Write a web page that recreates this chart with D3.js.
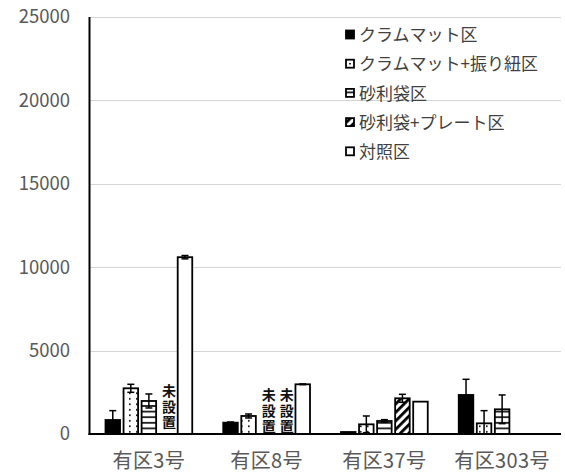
<!DOCTYPE html>
<html><head><meta charset="utf-8">
<script src="https://cdn.jsdelivr.net/npm/d3@7"></script>
<style>
html,body{margin:0;padding:0;background:#fff;}
svg{display:block;font-family:"Noto Sans CJK JP","Noto Sans",sans-serif;}
</style></head>
<body>
<svg id="chart" width="565" height="474"></svg>
<script>
const categories = ["有区3号","有区8号","有区37号","有区303号"];
const seriesNames = ["クラムマット区","クラムマット+振り紐区","砂利袋区","砂利袋+プレート区","対照区"];
const clamValues        = [840, 680, 120, 2340];
const clamRopeValues    = [2740, 1080, 580, 640];
const gravelValues      = [1980, null, 780, 1480];
const gravelPlateValues = [null, null, 2140, null];
const controlValues     = [10600, 2980, 1940, null];
const clamErr        = [560, 40, 0, 940];
const clamRopeErr    = [240, 120, 500, 760];
const gravelErr      = [420, null, 80, 860];
const gravelPlateErr = [null, null, 240, null];
const controlErr     = [100, 20, 0, null];
const yTicks = [0, 5000, 10000, 15000, 20000, 25000];
const notInstalled = [
  {cat: "有区3号", series: "砂利袋+プレート区"},
  {cat: "有区8号", series: "砂利袋区"},
  {cat: "有区8号", series: "砂利袋+プレート区"}
];
const notInstalledText = "未設置";

const allValues = [clamValues, clamRopeValues, gravelValues, gravelPlateValues, controlValues];
const allErrs = [clamErr, clamRopeErr, gravelErr, gravelPlateErr, controlErr];
const fills = ["#000", "url(#dots)", "url(#hlines)", "url(#diag)", "#fff"];

const svg = d3.select("#chart");
const defs = svg.append("defs");
const pd = defs.append("pattern").attr("id","dots").attr("patternUnits","userSpaceOnUse")
  .attr("width",7).attr("height",5.5);
pd.append("rect").attr("width",7).attr("height",5.5).attr("fill","#fff");
pd.append("rect").attr("x",3).attr("y",2).attr("width",1.6).attr("height",1.6).attr("fill","#000");
const ph = defs.append("pattern").attr("id","hlines").attr("patternUnits","userSpaceOnUse")
  .attr("width",6).attr("height",5.6);
ph.append("rect").attr("width",6).attr("height",5.6).attr("fill","#fff");
ph.append("rect").attr("y",2).attr("width",6).attr("height",1.6).attr("fill","#000");
const pg = defs.append("pattern").attr("id","diag").attr("patternUnits","userSpaceOnUse")
  .attr("width",6).attr("height",6).attr("patternTransform","rotate(45)");
pg.append("rect").attr("width",6).attr("height",6).attr("fill","#fff");
pg.append("rect").attr("width",2.8).attr("height",6).attr("fill","#000");

const mLeft = 90, mRight = 561, mTop = 17, mBottom = 434;
const y = d3.scaleLinear().domain([0, 25000]).range([mBottom, mTop]).clamp(true);
const x0 = d3.scaleBand().domain(categories).range([mLeft, mRight]).paddingInner(0).paddingOuter(0);
const x1 = d3.scaleBand().domain(seriesNames).range([15.5, x0.bandwidth() - 15.5]).paddingInner(0.194).paddingOuter(0);

// gridlines
svg.append("g").selectAll("line").data(yTicks.filter(d => d > 0)).join("line")
  .attr("x1", mLeft).attr("x2", mRight)
  .attr("y1", d => Math.round(y(d)) + 0.5).attr("y2", d => Math.round(y(d)) + 0.5)
  .attr("stroke", "#d4d4d4").attr("stroke-width", 1);

// y tick labels
svg.append("g").selectAll("text").data(yTicks).join("text")
  .attr("x", 70).attr("y", d => y(d)).attr("dy", "0.35em")
  .attr("text-anchor", "end").attr("font-size", 18.5).attr("fill", "#595959")
  .text(d => d);

// bars
const barData = [];
seriesNames.forEach((s, si) => {
  categories.forEach((c, ci) => {
    const v = allValues[si][ci];
    if (v !== null) barData.push({s, si, c, v, e: allErrs[si][ci]});
  });
});
const bars = svg.append("g");
bars.selectAll("rect").data(barData).join("rect")
  .attr("x", d => x0(d.c) + x1(d.s))
  .attr("y", d => y(d.v))
  .attr("width", x1.bandwidth())
  .attr("height", d => y(0) - y(d.v))
  .attr("fill", d => fills[d.si])
  .attr("stroke", "#000").attr("stroke-width", 1.8);

// error bars
const eg = svg.append("g").attr("stroke", "#000").attr("stroke-width", 1.5);
barData.filter(d => d.e !== null && d.e > 0).forEach(d => {
  const cx = x0(d.c) + x1(d.s) + x1.bandwidth() / 2;
  const y1 = y(d.v + d.e), y2 = y(d.v - d.e);
  eg.append("line").attr("x1", cx).attr("x2", cx).attr("y1", y1).attr("y2", y2);
  eg.append("line").attr("x1", cx - 3.5).attr("x2", cx + 3.5).attr("y1", y1).attr("y2", y1);
  if (d.v - d.e > 0)
    eg.append("line").attr("x1", cx - 3.5).attr("x2", cx + 3.5).attr("y1", y2).attr("y2", y2);
});

// 未設置 labels (vertical writing)
const ng = svg.append("g");
notInstalled.forEach((d, k) => {
  const cx = x0(d.cat) + x1(d.series) + x1.bandwidth() / 2 + 2;
  ng.append("text")
    .attr("x", cx).attr("y", k === 0 ? 384 : 388)
    .attr("writing-mode", "vertical-rl")
    .style("writing-mode", "vertical-rl")
    .attr("letter-spacing", 1.5)
    .attr("font-size", 14).attr("font-weight", "bold").attr("fill", "#111")
    .text(notInstalledText);
});

// axes lines
svg.append("line").attr("x1", mLeft - 0.5).attr("x2", mLeft - 0.5).attr("y1", mTop).attr("y2", mBottom + 1)
  .attr("stroke", "#000").attr("stroke-width", 2);
svg.append("line").attr("x1", mLeft - 1.5).attr("x2", mRight).attr("y1", mBottom).attr("y2", mBottom)
  .attr("stroke", "#000").attr("stroke-width", 2);

// x labels
svg.append("g").selectAll("text").data(categories).join("text")
  .attr("x", d => x0(d) + x0.bandwidth() / 2).attr("y", 468)
  .attr("text-anchor", "middle").attr("font-size", 20).attr("letter-spacing", 0.4).attr("fill", "#595959")
  .text(d => d);

// legend
const lg = svg.append("g");
seriesNames.forEach((s, i) => {
  const cy = 35 + i * 29.2;
  lg.append("rect").attr("x", 346).attr("y", cy - 4.5).attr("width", 8).attr("height", 8)
    .attr("fill", i === 1 ? "#fff" : fills[i]).attr("stroke", "#000").attr("stroke-width", 1.8);
  if (i === 1) lg.append("rect").attr("x", 349.2).attr("y", cy - 1.3).attr("width", 1.6).attr("height", 1.6).attr("fill", "#000");
  lg.append("text").attr("x", 359).attr("y", cy).attr("dy", "0.36em")
    .attr("font-size", 17).attr("fill", "#404040").text(s);
});
</script>
</body></html>
